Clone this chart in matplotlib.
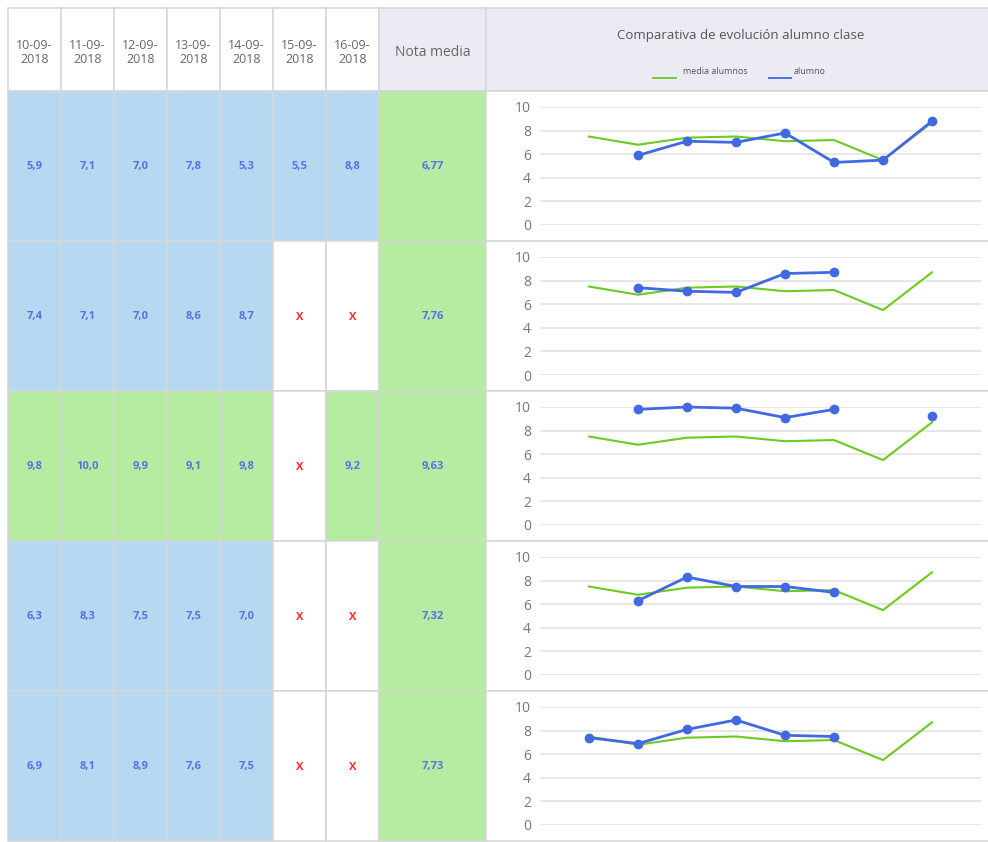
import numpy as np
import matplotlib.pyplot as plt
from matplotlib.patches import Rectangle

dates = ["10-09-\n2018", "11-09-\n2018", "12-09-\n2018", "13-09-\n2018",
         "14-09-\n2018", "15-09-\n2018", "16-09-\n2018"]

notas_1 = ["5,9", "7,1", "7,0", "7,8", "5,3", "5,5", "8,8"]
notas_2 = ["7,4", "7,1", "7,0", "8,6", "8,7", "X", "X"]
notas_3 = ["9,8", "10,0", "9,9", "9,1", "9,8", "X", "9,2"]
notas_4 = ["6,3", "8,3", "7,5", "7,5", "7,0", "X", "X"]
notas_5 = ["6,9", "8,1", "8,9", "7,6", "7,5", "X", "X"]
nota_media = ["6,77", "7,76", "9,63", "7,32", "7,73"]

# chart series (8 points each)
media_alumnos = [7.5, 6.8, 7.4, 7.5, 7.1, 7.2, 5.5, 8.7]
alumno_1 = [np.nan, 5.9, 7.1, 7.0, 7.8, 5.3, 5.5, 8.8]
alumno_2 = [np.nan, 7.4, 7.1, 7.0, 8.6, 8.7, np.nan, np.nan]
alumno_3 = [np.nan, 9.8, 10.0, 9.9, 9.1, 9.8, np.nan, 9.2]
alumno_4 = [np.nan, 6.3, 8.3, 7.5, 7.5, 7.0, np.nan, np.nan]
alumno_5 = [7.4, 6.9, 8.1, 8.9, 7.6, 7.5, np.nan, np.nan]

W, H = 988, 842
BLUE_CELL = "#B6D8F1"
GREEN_CELL = "#B6EBA2"
HEAD_BG = "#ECEBF4"
BORDER = "#D6D6D6"
TXT_BLUE = "#5573E3"
LINE_GREEN = "#6BCB1E"
LINE_BLUE = "#4169E1"

plt.rcParams['font.family'] = ['Open Sans', 'DejaVu Sans']

col_x = [8, 61, 114, 167, 220, 273, 326, 379, 486, 988]
head_top, head_bot = 8, 91
row_h = 150


def cell(ax, x0, y0, x1, y1, color):
    ax.add_patch(Rectangle((x0, y0), x1 - x0, y1 - y0, facecolor=color,
                           edgecolor=BORDER, linewidth=1.1))


def cellColor(txt):
    if txt == "X":
        return "white"
    if float(txt.replace(",", ".")) >= 9:
        return GREEN_CELL
    return BLUE_CELL


def drawTable(ax, rows):
    # header
    for i, d in enumerate(dates):
        cell(ax, col_x[i], head_top, col_x[i + 1], head_bot, "white")
        ax.text((col_x[i] + col_x[i + 1]) / 2, (head_top + head_bot) / 2 + 3, d,
                ha="center", va="center", fontsize=9, color="#666666", linespacing=1.15)
    cell(ax, col_x[7], head_top, col_x[8], head_bot, HEAD_BG)
    ax.text((col_x[7] + col_x[8]) / 2, (head_top + head_bot) / 2 + 3, "Nota media",
            ha="center", va="center", fontsize=10, color="#666666")
    cell(ax, col_x[8], head_top, col_x[9] + 5, head_bot, HEAD_BG)
    ax.text(741, 36, "Comparativa de evolución alumno clase",
            ha="center", va="center", fontsize=9.5, color="#555555")
    # legend
    ax.plot([653, 676], [78, 78], color=LINE_GREEN, lw=1.3)
    ax.text(683, 72, "media alumnos", ha="left", va="center", fontsize=6.5, color="#555555")
    ax.plot([769, 791], [78, 78], color=LINE_BLUE, lw=1.3)
    ax.text(794, 72, "alumno", ha="left", va="center", fontsize=6.5, color="#555555")

    for r, vals in enumerate(rows):
        y0 = head_bot + r * row_h
        y1 = y0 + row_h
        yc = (y0 + y1) / 2 + 1
        for i, v in enumerate(vals):
            cell(ax, col_x[i], y0, col_x[i + 1], y1, cellColor(v))
            ax.text((col_x[i] + col_x[i + 1]) / 2, yc, v, ha="center", va="center",
                    fontsize=8, fontweight="bold",
                    color="#FF2A2A" if v == "X" else TXT_BLUE)
        cell(ax, col_x[7], y0, col_x[8], y1, GREEN_CELL)
        ax.text((col_x[7] + col_x[8]) / 2, yc, nota_media[r], ha="center", va="center",
                fontsize=8, fontweight="bold", color=TXT_BLUE)
        cell(ax, col_x[8], y0, col_x[9] + 5, y1, "white")


def miniChart(fig, r, alumno):
    top = head_bot + r * row_h + 16
    left, right = 540, 981
    h = 118
    ax = fig.add_axes([left / W, 1 - (top + h) / H, (right - left) / W, h / H])
    x = np.arange(1, 9)
    ax.plot(x, media_alumnos, color=LINE_GREEN, lw=1.5, clip_on=False, zorder=3)
    ax.plot(x, alumno, color=LINE_BLUE, lw=2, marker="o", markersize=6,
            clip_on=False, zorder=4)
    ax.set_xlim(0, 9)
    ax.set_ylim(0, 10)
    ax.set_yticks(np.arange(0, 11, 2))
    ax.set_xticks([])
    ax.grid(axis="y", color="#E0E0E0", linewidth=1.1)
    ax.set_axisbelow(True)
    for s in ax.spines.values():
        s.set_visible(False)
    ax.tick_params(axis="y", length=0, pad=6.5, labelsize=10, labelcolor="#777777")
    ax.patch.set_alpha(0)
    return ax


def main():
    fig = plt.figure(figsize=(W / 100, H / 100), dpi=100)
    bg = fig.add_axes([0, 0, 1, 1])
    bg.set_xlim(0, W)
    bg.set_ylim(H, 0)
    bg.axis("off")

    rows = [notas_1, notas_2, notas_3, notas_4, notas_5]
    drawTable(bg, rows)

    for r, al in enumerate([alumno_1, alumno_2, alumno_3, alumno_4, alumno_5]):
        miniChart(fig, r, al)

    fig.savefig("out.png", dpi=100)


if __name__ == "__main__":
    main()
